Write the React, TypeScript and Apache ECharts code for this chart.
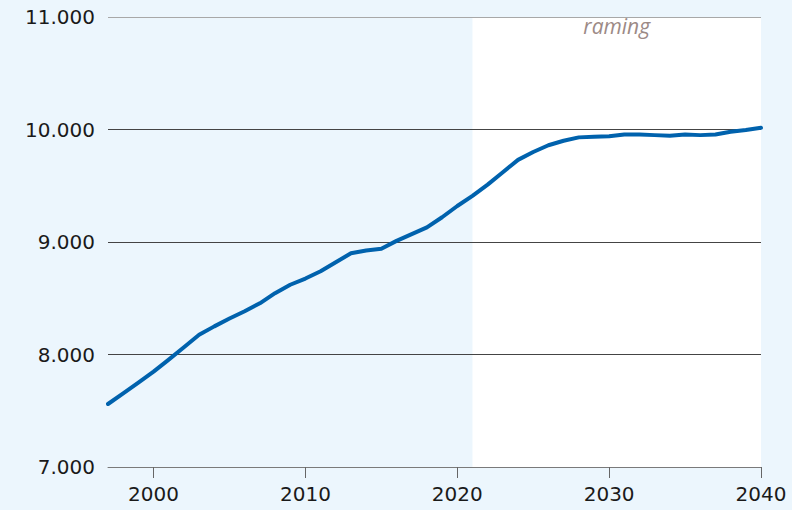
import React, { useEffect, useRef } from "react";
import * as echarts from "echarts";

const years: number[] = [
  1997, 1998, 1999, 2000, 2001, 2002, 2003, 2004, 2005, 2006, 2007, 2008, 2009,
  2010, 2011, 2012, 2013, 2014, 2015, 2016, 2017, 2018, 2019, 2020, 2021, 2022,
  2023, 2024, 2025, 2026, 2027, 2028, 2029, 2030, 2031, 2032, 2033, 2034, 2035,
  2036, 2037, 2038, 2039, 2040,
];
const values: number[] = [
  7560, 7655, 7750, 7848, 7955, 8065, 8175, 8250, 8320, 8385, 8455, 8545, 8620,
  8675, 8740, 8820, 8900, 8925, 8940, 9010, 9070, 9130, 9220, 9320, 9410, 9510,
  9620, 9730, 9800, 9860, 9900, 9930, 9935, 9940, 9955, 9955, 9950, 9945, 9955,
  9950, 9955, 9980, 9995, 10015,
];
const xTicks: number[] = [2000, 2010, 2020, 2030, 2040];
const projectionStart = 2021;
const projectionEnd = 2040;
const projectionLabel = "raming";

const fmt = (v: number) => {
  const s = String(Math.round(v));
  return s.replace(/\B(?=(\d{3})+(?!\d))/g, ".");
};

export default function App() {
  const ref = useRef<HTMLDivElement>(null);
  useEffect(() => {
    if (!ref.current) return;
    const chart = echarts.init(ref.current, undefined, { renderer: "svg" });
    chart.setOption({
      animation: false,
      backgroundColor: "#ecf6fd",
      grid: { left: 108, right: 31, top: 17, bottom: 43 },
      xAxis: {
        type: "value",
        min: 1997,
        max: 2040,
        z: 1.5,
        splitLine: { show: false },
        axisLine: { lineStyle: { color: "#7a7a7a", width: 1 } },
        axisTick: {
          customValues: xTicks,
          length: 11,
          lineStyle: { color: "#666", width: 1 },
        },
        axisLabel: {
          customValues: xTicks,
          margin: 17,
          color: "#1a1a1a",
          fontFamily: "DejaVu Sans",
          fontSize: 20,
          formatter: (v: number) => String(v),
        },
      },
      yAxis: {
        type: "value",
        min: 7000,
        max: 11000,
        interval: 1000,
        z: 1.5,
        axisLine: { show: false },
        axisTick: { show: false },
        splitLine: {
          lineStyle: {
            color: ["#7a7a7a", "#444", "#444", "#444", "#a8a8a8"],
            width: 1,
          },
        },
        axisLabel: {
          margin: 13,
          color: "#1a1a1a",
          fontFamily: "DejaVu Sans",
          fontSize: 20,
          formatter: (v: number) => fmt(v),
        },
      },
      series: [
        {
          type: "line",
          z: 3,
          data: years.map((y, i) => [y, values[i]]),
          showSymbol: false,
          symbol: "none",
          lineStyle: { color: "#0062ad", width: 4, cap: "round", join: "round" },
          markArea: {
            silent: true,
            itemStyle: { color: "#ffffff" },
            label: {
              show: true,
              position: "insideTop",
              distance: -2,
              color: "#9c8a86",
              fontFamily: "Open Sans",
              fontStyle: "italic",
              fontSize: 21,
            },
            data: [
              [
                { xAxis: projectionStart, name: projectionLabel },
                { xAxis: projectionEnd },
              ],
            ],
          },
        },
      ],
    });
    return () => chart.dispose();
  }, []);
  return (
    <div
      ref={ref}
      style={{ position: "fixed", left: 0, top: 0, width: 792, height: 510 }}
    />
  );
}
